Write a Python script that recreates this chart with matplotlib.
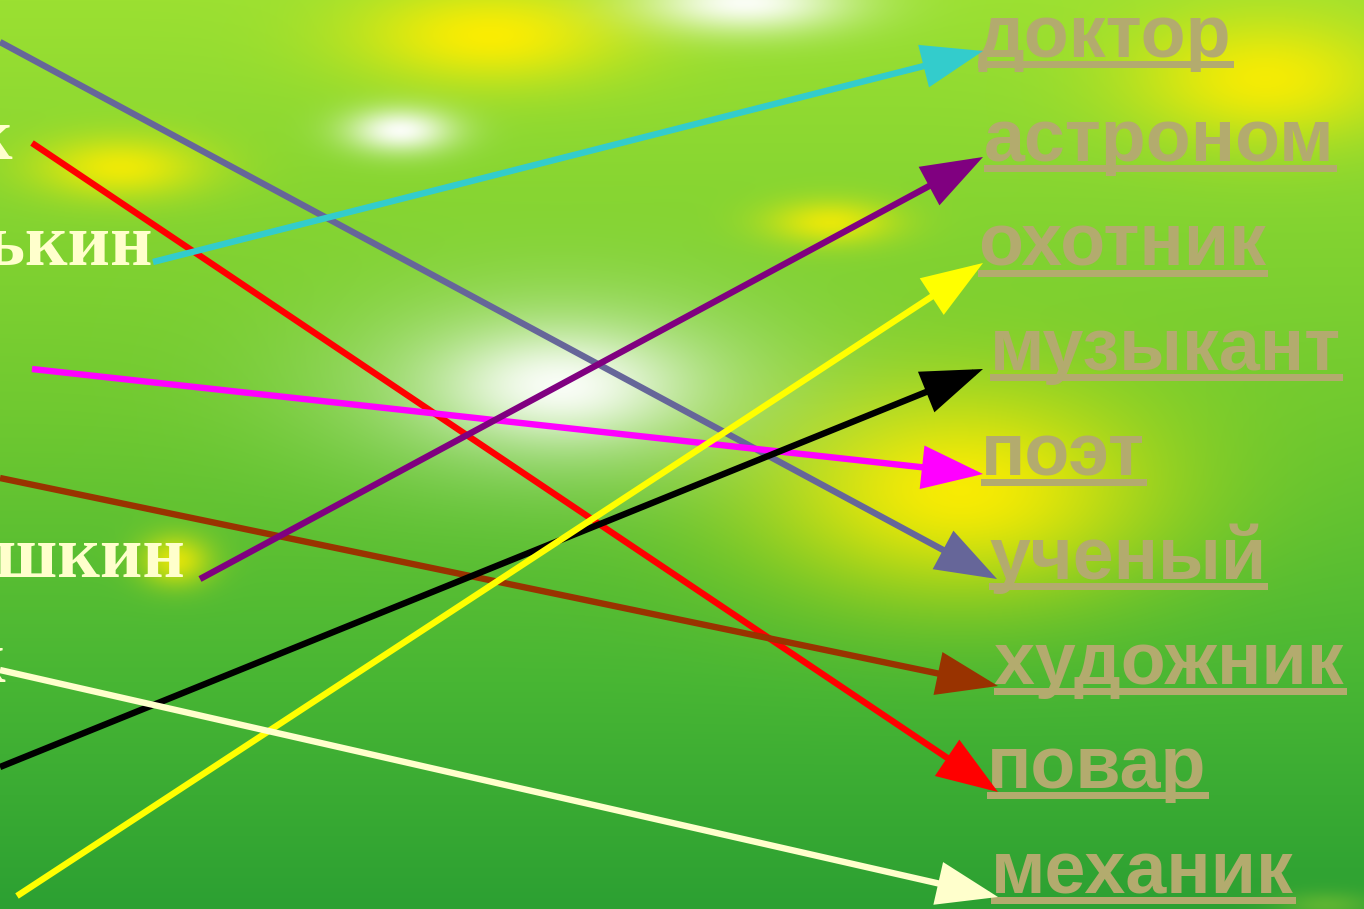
import numpy as np
import matplotlib
matplotlib.use('Agg')
import matplotlib.pyplot as plt
from matplotlib.patches import FancyArrowPatch, ArrowStyle, Rectangle

W, H = 1364, 909

# ---- data ----
professions = ["доктор", "астроном", "охотник", "музыкант", "поэт",
               "ученый", "художник", "повар", "механик"]
profession_x = [978, 984, 978, 990, 981, 989, 994, 987, 991]
profession_baseline = [57, 161, 266, 370, 475, 579, 684, 788, 893]

names = ["к", "ькин", "шкин", "к"]
name_right = [12, 153, 185, 5]
name_baseline = [159, 265, 577, 682]

arrow_start_x = [0, 32, 153, 32, 0, 200, 0, 17, 0]
arrow_start_y = [42, 143, 262, 369, 478, 579, 767, 896, 670]
arrow_end_x = [997, 998, 983, 983, 998, 983, 983, 983, 998]
arrow_end_y = [579, 792, 51, 474, 686, 157, 369, 263, 897]
arrow_colors = ["#666699", "#FF0000", "#33CCCC", "#FF00FF", "#993300",
                "#800080", "#000000", "#FFFF00", "#FFFFCC"]

# ---- figure ----
fig = plt.figure(figsize=(W / 100, H / 100), dpi=100)
ax = fig.add_axes([0, 0, 1, 1])
ax.set_xlim(0, W)
ax.set_ylim(H, 0)
ax.axis('off')

# background gradient with glows
yy, xx = np.mgrid[0:H, 0:W].astype(float)
t = yy / (H - 1)
stops_t = [0.0, 0.45, 0.75, 1.0]
stops_c = [(155, 224, 50), (112, 201, 48), (72, 182, 52), (44, 160, 50)]
img = np.zeros((H, W, 3))
for k in range(3):
    img[..., k] = np.interp(t, stops_t, [c[k] for c in stops_c])
img /= 255.0

def glow(cx, cy, sx, sy, amp, col):
    global img
    a = amp * np.exp(-0.5 * (((xx - cx) / sx) ** 2 + ((yy - cy) / sy) ** 2))
    a = a[..., None]
    img = img * (1 - a) + np.array(col)[None, None, :] * a

yel = (1.0, 0.93, 0.0)
wht = (1.0, 1.0, 1.0)
glow(490, 35, 95, 35, 0.95, yel)
glow(120, 167, 60, 22, 0.85, yel)
glow(830, 222, 45, 16, 0.8, yel)
glow(1265, 78, 95, 45, 0.9, yel)
glow(960, 490, 140, 75, 0.95, yel)
glow(175, 560, 25, 18, 0.8, yel)
glow(400, 130, 38, 16, 0.95, wht)
glow(745, 2, 75, 22, 0.95, wht)
glow(560, 385, 150, 65, 0.55, wht)
glow(560, 385, 70, 32, 0.9, wht)
glow(1325, 905, 35, 10, 0.35, (0.7, 0.85, 0.2))

ax.imshow(np.clip(img, 0, 1), extent=(0, W, H, 0), interpolation='bilinear',
          aspect='auto', zorder=0)

# left names
for txt, xr, yb in zip(names, name_right, name_baseline):
    ax.text(xr, yb, txt, ha='right', va='baseline', color='#FFFFCC',
            fontsize=53, fontweight='bold', family='Liberation Serif', zorder=2)

# professions
texts = []
for txt, xl, yb in zip(professions, profession_x, profession_baseline):
    tt = ax.text(xl, yb, txt, ha='left', va='baseline', color='#B3AB6E',
                 fontsize=53, fontweight='bold', family='Liberation Sans', zorder=2)
    texts.append(tt)

fig.canvas.draw()
renderer = fig.canvas.get_renderer()
inv = ax.transData.inverted()
for tt, xl, yb in zip(texts, profession_x, profession_baseline):
    bb = tt.get_window_extent(renderer)
    (x0, _), (x1, _) = inv.transform([(bb.x0, bb.y0), (bb.x1, bb.y1)])
    ax.add_patch(Rectangle((xl, yb + 4), x1 - xl + 2, 7, color='#B3AB6E',
                           lw=0, zorder=2))

# arrows
style = ArrowStyle('-|>', head_length=3.5, head_width=1.25)
for sx, sy, ex, ey, c in zip(arrow_start_x, arrow_start_y, arrow_end_x,
                             arrow_end_y, arrow_colors):
    p = FancyArrowPatch((sx, sy), (ex, ey), arrowstyle=style,
                        mutation_scale=10, color=c, lw=4.6,
                        shrinkA=0, shrinkB=0, capstyle='butt',
                        joinstyle='miter', zorder=3)
    ax.add_patch(p)

fig.savefig('out.png', dpi=100)
